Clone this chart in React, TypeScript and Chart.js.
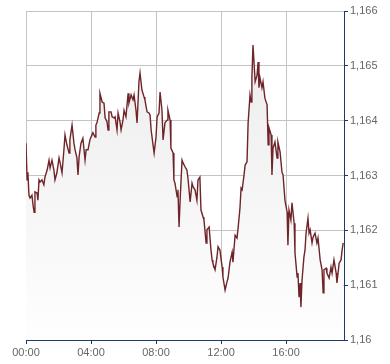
import React, { useEffect, useRef } from "react";
import { Chart, registerables } from "chart.js";

Chart.register(...registerables);

// minutes since 00:00
const minutes = [
  0, 4, 7, 11, 15, 22, 26, 30, 33, 41, 44, 48, 52, 59, 66, 70, 78, 85, 89, 96,
  103, 107, 114, 122, 126, 133, 140, 144, 151, 159, 162, 170, 177, 181, 188, 192, 196, 203, 210, 218,
  222, 229, 236, 240, 247, 255, 258,
  262, 270, 273, 281, 288, 292, 299, 303, 306, 314, 318, 325, 329, 336, 340, 347, 351, 358, 362, 369,
  377, 380, 388, 395, 399, 406, 410, 417, 421, 428, 436, 439, 447, 454, 458, 462, 469, 473, 480, 484,
  491, 495, 502, 506, 513, 521, 524, 532, 535, 543, 546, 550, 558, 561, 565, 569, 576, 580, 587, 594,
  598, 606, 613, 617, 624, 631, 635, 642, 646, 654, 657, 665, 668, 676, 683, 687, 690, 698, 705, 709,
  716, 724, 727, 735, 742, 746, 753, 761, 764, 772, 779, 783, 790, 794, 798, 805, 809, 816, 820, 827,
  831, 834, 838, 846, 853, 857, 860, 864, 871, 875, 882, 890, 894, 897, 905, 908, 912, 919, 927, 930,
  938, 945, 949, 956, 964, 967, 971, 978, 982, 990, 993, 1001, 1004, 1008, 1012, 1015, 1019, 1026, 1030, 1034,
  1041, 1045, 1049, 1056, 1060, 1067, 1074, 1078, 1086, 1093, 1097, 1100, 1108, 1111, 1119, 1126, 1130, 1137, 1145, 1148,
  1156, 1163, 1167, 1171,
];

const rates = [
  1.16359, 1.16292, 1.16306, 1.16264, 1.16259, 1.16264, 1.16246, 1.16233, 1.1627, 1.16268, 1.16255, 1.16292, 1.16288, 1.16292, 1.16283, 1.16297, 1.1631, 1.16328, 1.16314, 1.16328,
  1.1631, 1.16292, 1.16305, 1.16332, 1.16323, 1.16305, 1.16347, 1.16374, 1.16356, 1.16341, 1.16365, 1.16392, 1.16359, 1.16347, 1.16332, 1.16301, 1.16334, 1.16359, 1.16368, 1.16328,
  1.16347, 1.16347, 1.16365, 1.1637, 1.16378, 1.1637, 1.16392,
  1.16396, 1.16414, 1.1645, 1.16434, 1.16432, 1.16405, 1.16398, 1.16383, 1.16416, 1.16416, 1.16407, 1.16405, 1.16407, 1.16383, 1.16414, 1.16398, 1.16383, 1.16401, 1.16419, 1.16407,
  1.1645, 1.16432, 1.16447, 1.16438, 1.16447, 1.16419, 1.16396, 1.16471, 1.16487, 1.16456, 1.16443, 1.16438, 1.16416, 1.16414, 1.1641, 1.16383, 1.16356, 1.16341, 1.1637, 1.16407,
  1.16414, 1.16452, 1.16419, 1.16365, 1.16396, 1.16401, 1.16419, 1.16401, 1.1635, 1.16341, 1.16292, 1.16286, 1.16261, 1.16274, 1.16206, 1.16255, 1.16328, 1.16323, 1.16316, 1.1631,
  1.16295, 1.16252, 1.16286, 1.16279, 1.16274, 1.16255, 1.16292, 1.16297, 1.16237, 1.16224, 1.16219, 1.16177, 1.16201, 1.16206, 1.16164, 1.16146, 1.1614, 1.16128, 1.16151, 1.1617,
  1.16164, 1.16133, 1.16115, 1.16091, 1.16106, 1.16113, 1.16142, 1.1616, 1.16142, 1.16191, 1.16186, 1.16204, 1.16241, 1.16277, 1.16274, 1.16301, 1.16319, 1.16325, 1.16396, 1.16447,
  1.16434, 1.16478, 1.16538, 1.16471, 1.16483, 1.16507, 1.1646, 1.16478, 1.1646, 1.16471, 1.16441, 1.16429, 1.16356, 1.16387, 1.16374, 1.16301, 1.1635, 1.16361, 1.16332, 1.16361,
  1.16343, 1.16306, 1.16301, 1.16255, 1.16233, 1.16173, 1.16237, 1.16219, 1.1625, 1.16213, 1.16159, 1.16115, 1.16122, 1.16078, 1.16104, 1.1606, 1.16109, 1.16151, 1.16164, 1.16195,
  1.16222, 1.16195, 1.16201, 1.16177, 1.16188, 1.16195, 1.16177, 1.16186, 1.16146, 1.16128, 1.16086, 1.16128, 1.16131, 1.16122, 1.16113, 1.16133, 1.16122, 1.16146, 1.16122, 1.16104,
  1.1614, 1.16146, 1.16164, 1.16177,
];

const xTickMinutes = [0, 240, 480, 720, 960];
const yMin = 1.16;
const yMax = 1.166;
const yStep = 0.001;
const xMax = 1174;

function fmtTime(m: number): string {
  const h = Math.floor(m / 60);
  const mm = Math.round(m % 60);
  return String(h).padStart(2, "0") + ":" + String(mm).padStart(2, "0");
}

function fmtRate(v: number): string {
  let s = v.toFixed(3);
  s = s.replace(/0+$/, "");
  return s.replace(".", ",");
}

export default function App() {
  const ref = useRef<HTMLCanvasElement | null>(null);

  useEffect(() => {
    document.body.style.margin = "0";
    const canvas = ref.current;
    if (!canvas) return;
    const points = minutes.map((m, i) => ({ x: m, y: rates[i] }));
    const axisBlue = "#1c3a6e";
    const gridGrey = "#c3c3c3";
    const chart = new Chart(canvas, {
      type: "line",
      data: {
        datasets: [
          {
            data: points,
            borderColor: "#6e2428",
            borderWidth: 1.4,
            pointRadius: 0,
            tension: 0,
            fill: "start",
            backgroundColor: (ctx: any) => {
              const c = ctx.chart;
              const area = c.chartArea;
              if (!area) return "#f0f0f0";
              const g = c.ctx.createLinearGradient(0, area.top, 0, area.bottom);
              g.addColorStop(0, "#ebebeb");
              g.addColorStop(1, "#fefefe");
              return g;
            },
          },
        ],
      },
      options: {
        animation: false,
        responsive: true,
        maintainAspectRatio: false,
        layout: { padding: { left: 26, top: 11, right: 0, bottom: 0 } },
        plugins: { legend: { display: false }, tooltip: { enabled: false } },
        scales: {
          x: {
            type: "linear",
            min: 0,
            max: xMax,
            afterFit: (s: any) => {
              s.height = 24;
            },
            afterBuildTicks: (s: any) => {
              s.ticks = xTickMinutes.map((v) => ({ value: v }));
            },
            ticks: {
              includeBounds: false,
              autoSkip: false,
              maxRotation: 0,
              padding: 2,
              color: "#666666",
              font: { family: "'Liberation Sans', Arial, sans-serif", size: 11 },
              callback: (v: any) => fmtTime(Number(v)),
            },
            grid: {
              color: gridGrey,
              lineWidth: 1,
              drawTicks: true,
              tickLength: 4,
              tickColor: axisBlue,
            },
            border: { display: true, color: axisBlue, width: 1 },
          },
          y: {
            position: "right",
            min: yMin,
            max: yMax,
            afterFit: (s: any) => {
              s.width = 46;
            },
            ticks: {
              stepSize: yStep,
              padding: 2,
              color: "#666666",
              font: { family: "'Liberation Sans', Arial, sans-serif", size: 11 },
              callback: (v: any) => fmtRate(Number(v)),
            },
            grid: {
              color: gridGrey,
              lineWidth: 1,
              drawTicks: true,
              tickLength: 4,
              tickColor: axisBlue,
            },
            border: { display: true, color: axisBlue, width: 1 },
          },
        },
      },
    });
    return () => chart.destroy();
  }, []);

  return (
    <div style={{ width: 390, height: 364, position: "relative" }}>
      <canvas ref={ref} />
    </div>
  );
}
